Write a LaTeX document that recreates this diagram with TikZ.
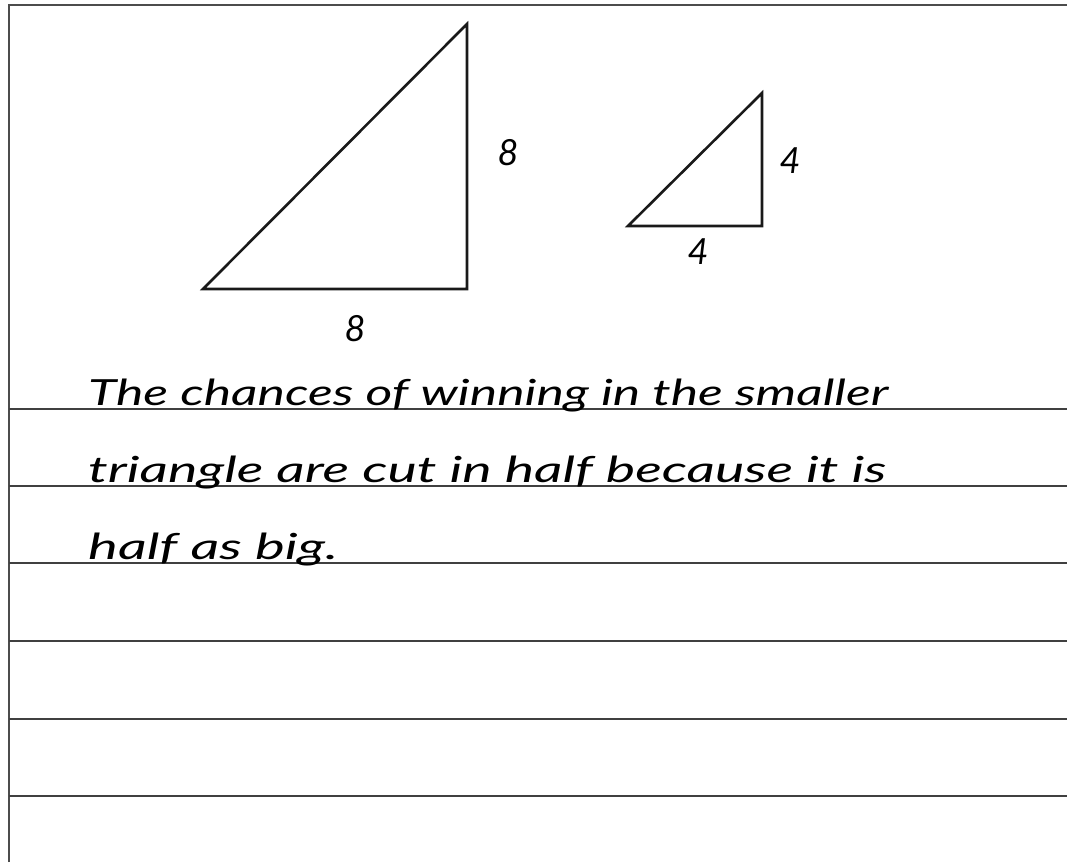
\documentclass[tikz,border=0pt]{standalone}
\usepackage{fontspec}
\setmainfont{Lato}
\usepackage{graphicx}
\begin{document}
\begin{tikzpicture}[x=1pt,y=-1pt,
  rule/.style={draw=black!75,line width=1.5pt},
  tri/.style={draw=black!90,line width=2.6pt,line join=miter},
  hand/.style={anchor=base west,inner sep=0pt,font=\fontsize{36}{40}\selectfont\itshape},
  digit/.style={inner sep=0pt,font=\fontsize{36}{40}\selectfont\itshape}]
\useasboundingbox (0,0) rectangle (1067,862);
% frame
\draw[draw=black!70,line width=2pt] (9,862) -- (9,5) -- (1067,5);
% ruled lines
\foreach \y in {409,486,563,641,719,796} \draw[rule] (9,\y) -- (1067,\y);
% big triangle
\coordinate (A) at (203,289);
\coordinate (B) at (467,289);
\coordinate (C) at (467,24);
\draw[tri] (A) -- (B) -- (C) -- cycle;
% small triangle
\coordinate (D) at (628,226);
\coordinate (E) at (762,226);
\coordinate (F) at (762,93);
\draw[tri] (D) -- (E) -- (F) -- cycle;
% labels
\node[digit] (l1) at (508,153) {8};
\node[digit] (l2) at (355,329) {8};
\node[digit] (l3) at (790,161) {4};
\node[digit] (l4) at (698,252) {4};
% text
\node[hand] (t1) at (88,405) {\resizebox{800pt}{\height}{The chances of winning in the smaller}};
\node[hand] (t2) at (88,482) {\resizebox{798pt}{\height}{triangle are cut in half because it is}};
\node[hand] (t3) at (88,559) {\resizebox{250pt}{\height}{half as big.}};
\end{tikzpicture}
\end{document}
